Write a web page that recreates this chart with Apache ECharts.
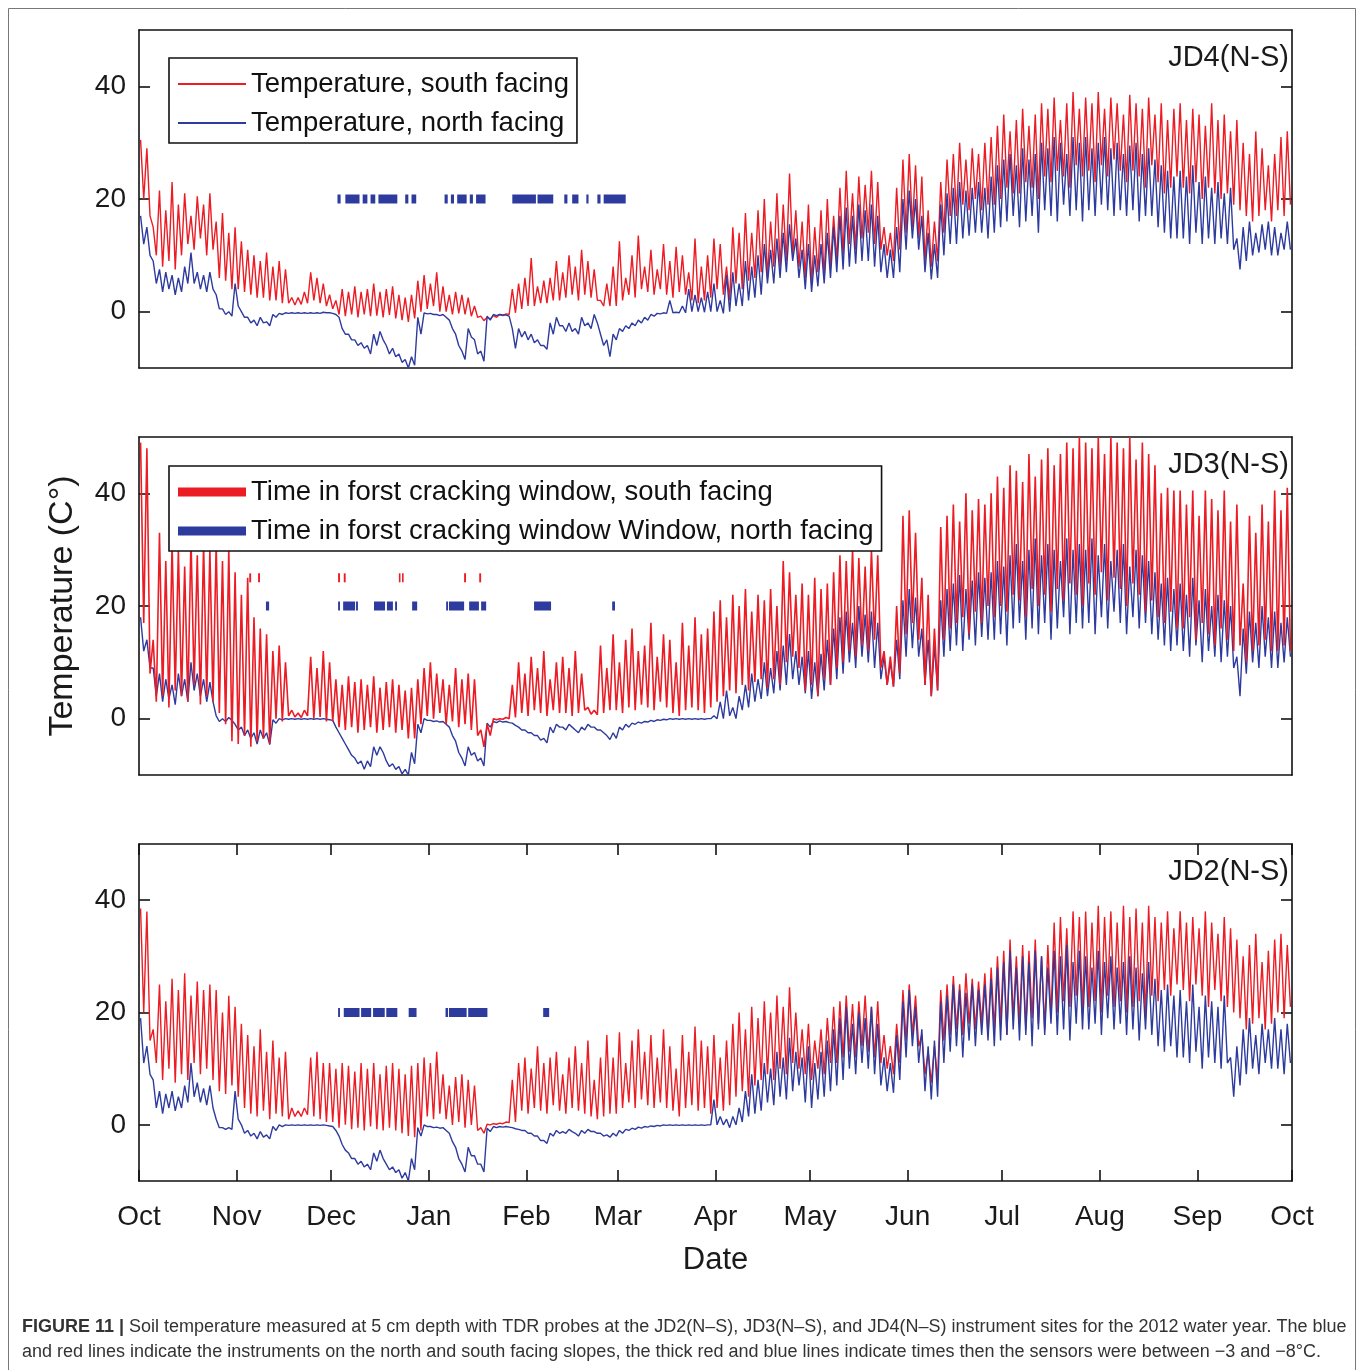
<!DOCTYPE html>
<html>
<head>
<meta charset="utf-8">
<script src="https://cdn.jsdelivr.net/npm/echarts@6/dist/echarts.min.js"></script>
<style>html,body{margin:0;padding:0;background:#fff;}#c{width:1360px;height:1370px;}</style>
</head>
<body>
<div id="c"></div>
<script>
// ---------- axis / tick data ----------
const monthStartDays = [0, 31, 61, 92, 123, 152, 183, 213, 244, 274, 305, 336, 366];
const monthLabels = ['Oct','Nov','Dec','Jan','Feb','Mar','Apr','May','Jun','Jul','Aug','Sep','Oct'];
const yTickValues = [0, 20, 40];
const stepDays = 2; // each hi/lo pair covers two days (hi first, then lo)

// ---------- JD4(N-S) ----------
const jd4SouthHi = [
30.5,29,15,21.5,18,23,19,21,17,20.5,19,21,16,17.5,14,
15,12.5,11,10,9,10.5,8,9,7.5,2.5,2.5,3.5,7,6,5,
3,2,4,3.5,4.5,3.5,4,5,3.5,4,4.5,3,2.5,3,5.5,
6.5,5,7,4.5,3,3.5,3,2.5,1,-0.8,-1,-0.7,-0.5,-0.4,4,
5,6,9.5,4.5,5.5,6,9,7,10,8,11,9,7.5,2,5,
8,12.5,6,10,13.5,8,11,7.5,12,9,11.5,10,7,13,8,
10,13,12,8,15,14,17.5,14,18,20,16,21,19,24.5,18,
16,19,15,18,20,17,22,25,21,24,22.5,25,23,15,14,
22,27,28,26,24,18,16,23,27,28,30,27,29,28,30,
31,33,35,32,34,36,33,35,37,36,38,34,37,39,36,
38,37,39,36,38,37,35,38.5,37,36,38,35,37,34,36,
37,34,36,35,33,37,34,35,32,34,30,28,32,29,26,
28,31,32];
const jd4SouthLo = [
20,17,10,8,9,7.5,10,12,11,13,10,11,6,5.5,4,
4,3.5,3,2.5,2.5,2,2,1.5,1.5,1.2,1.3,1.5,2,1.5,1,
0.5,-0.5,-0.8,-0.5,-1,-0.5,-0.8,-0.7,-1,-0.6,-1.2,-1.5,-1.8,-1.2,0,
0.5,1,0,0,-0.5,-0.3,-0.5,-0.8,-1,-1.6,-1.3,-1,-0.7,-0.5,-0.2,
0.5,1,1,1.5,1.5,2,2,2.5,3,2,3,2.5,2,1,1,
1,2,3,2.5,4,3.5,3,4,3,2.5,3.5,3,2,1.5,2,
2.5,4,3,2,5,4,5.5,6,7,6,8,8,9,10,8,
6,5,7,6,8,9,10,12,11,13,14,12,11,10,9,
11,14,15,13,9,8,9,14,17,17,19,18,20,18,19,
19,20,22,21,21,23,22,20,24,23,25,24,22,26,24,
25,23,26,24,27,25,23,25,24,22,26,23,21,22,24,
22,21,23,20,22,21,20,21,19,18,17,16,17,18,16,
18,17,19];
const jd4NorthHi = [
17,15,9,7.5,7,6.5,6,8,10.5,7,6.5,7,3,0.5,0,
5,0,-1,-1.5,-1,-1.8,-0.5,-0.3,-0.2,-0.2,-0.2,-0.2,-0.2,-0.2,-0.1,
-0.2,-0.5,-3,-4,-5,-5.5,-6,-4,-3.5,-6,-6.5,-7.5,-8.5,-8,-1,
-0.2,-0.3,-0.5,-0.5,-1.5,-4,-7,-3,-5,-7,-0.8,-0.5,-0.5,-0.6,-3,
-3,-3.5,-4,-5,-6,-2,-1,-2.5,-2,-3,-1,-2,-0.5,-4,-5,
-4,-3,-2.5,-2,-1.5,-1,-0.5,-0.3,-0.2,2,-0.1,1,4,3,2.5,
3.5,5,2,6.5,7,5,9,8,10,12,11,13,14,15.5,13,
11,12,10,12,14,15,17,18.5,17,19,18,19,17,12,11,
15,20,21.5,20,17,14,12,19,21,22,23,21.5,22,23,22,
24,26,27,28,26,29,27,28,30,29,31,30,28,31,30,
31,29,30,31,29,30,28,29.5,30,28,29,27,26,25,24,
25,24,26,23,24,22,23,21,22,13,15,16,14,15.5,16,
15,14,16];
const jd4NorthLo = [
12,10,5,3.5,4,3,3.5,5,5,4,3.5,4,0.5,-0.5,-0.8,
1,-1,-2,-2.5,-2,-2.5,-1,-0.5,-0.3,-0.3,-0.3,-0.3,-0.3,-0.3,-0.2,
-0.3,-1,-4,-5,-6,-6.5,-7.5,-6,-5,-7.5,-8,-9,-10,-9.5,-4,
-0.4,-0.5,-0.7,-1,-3,-6,-8.5,-4.5,-7.5,-8.8,-1.5,-0.7,-0.6,-0.8,-6.5,
-4.5,-5,-5.5,-6,-6.7,-4,-2.5,-3.5,-3.5,-4,-2.5,-3,-2,-6,-8,
-5,-3.5,-3,-2.5,-2,-1.5,-0.8,-0.4,-0.3,-0.2,-0.2,-0.2,0,0,-0.1,
0,0,-0.3,0,1,1,2,2.5,3,5,5,6,7,9,6,
4,3.5,4.5,5,6,7,7.5,8,8.5,9,9,8,7,6,6,
7,11,13,11,7,5.7,6,10,12,12,13,13.5,14,14,13,
14,15,16,17,15,16,17,14,18,17,16,19,17,18,16,
18,17,19,18,17,18,17,18,16,17,17,15,14,13,13,
13,12,14,12,13,12,13,12,11,7.5,9,10,10.5,11,10,
10,11,11];
const jd4FrostNorth = [[63,64],[65.5,70],[71,72.5],[73.5,75],[76,82],[84.5,85.5],[86.5,88],[97,98],[99,100],[101,104],[105,106],[107,110],[118.5,126],[126.5,131.5],[135,136],[137.5,139.5],[142,142.7],[145.5,146.5],[147.5,154.5]];

// ---------- JD3(N-S) ----------
const jd3SouthHi = [
49,48,14,33,28,31,30,27,32,29,31,30,31,28,30,
26,22,25,18,16,15,12,13,10,1.5,1,1.5,11,9,12,
10,7,6,7.5,6.5,7,6,7.5,5.5,6.5,7,6,5,5.5,7,
9,10,8,7,6,9,7,8,7,-2,-1,0,0,0.2,6,
10,8,11,9,12,7,10,11,9,12,8,2,1.5,13,9,
15,10,14,16,12,13,17,11,15,14,10,17,13,18,15,
16,19,21,18,22,20,23,19,22,21,23,20,28,26,22,
24,22,25,23,24,26,29,28,30,28.5,27,30,29,12,11,
20,36,37,33,25,22,16,34,36,38,35,40,37,39,38,
40,43,41,45,44,42,47,43,46,48,45,47,49,48,50,
49,48,50,47,50,49,48,50,46,49,47,45,40,41,40.5,
40.5,38,40.5,36,40.5,39,37,40.5,35,38,24,36,33,38,35,
40.5,37,41];
const jd3SouthLo = [
17,8,3,4,2,5,4,3,6,2.5,4,3,1,-1,-4,
-4.5,-3,-5,-4,-3.5,-4.5,0,-0.5,0.5,0.3,0.2,0.5,0,0.3,-0.5,
-0.5,-1.5,-2,-1.5,-2.5,-2,-1.5,-2.5,-2,-1.5,-2.5,-2,-3.5,-3.5,-1,
0.5,0,1,-1,-0.5,-1.5,-1,-2,-3,-5,-3,-0.2,-0.1,0,0.2,
1,0.5,1.5,1,0.5,1.5,1,1,0.5,1,1.5,0.8,0.7,1,1.5,
1.5,1,2,1.5,2.5,2,1.5,3,2,1,0.5,1.5,2,1.5,1,
2,3,4,5,4.5,6,5,6.5,7,5.5,7,6,10,11,9,
5,6,4,7,6,9,10,12,11,13,12,14,9,6,5.7,
8,15,17,14,6,4,5,14,16,17,18,15,19,17,20,
18,20,19,22,21,18,23,20,22,19,23,21,24,22,20,
24,22,26,21,25,23,20,24,22,19,21,18,17,19,16,
16,18,14,17,15,13,16,14,12,13,10,12,13,14,12,
12,13,12];
const jd3NorthHi = [
18,14,9,8,7,6,8,7,10,8,7,6.5,0.5,0,0.2,
-1,-1.5,-2,-2.5,-2,-2.5,-0.2,0,0,0,0,0,0,0,0,
-0.2,-1.5,-3.5,-5.5,-7,-7.5,-7.5,-5,-5,-7.5,-8,-8.5,-9,-6,-1,
0,-0.3,-0.4,-0.5,-1.5,-4,-7,-5,-6,-7,-0.8,-0.5,-0.4,-0.5,-0.8,
-1.5,-2,-2.5,-3,-3.5,-1.5,-1,-1.5,-1,-2,-1.5,-1,-1.5,-2,-3,
-2.5,-1.5,-1,-0.8,-0.6,-0.5,-0.3,-0.2,-0.1,0,0,0,0,0,0,
0,0.5,3,5,2,4,6,8,7,10,9,12,13,15,12,
11,12,10,11.5,14,16,18,19,17,20,18.5,19,17,11,10,
14,21,23,21.5,16,14,13,21,23,24,25.5,23,24.5,26,25,
26,28,27,29,31,28,30,32,29,31,30,28,32,30,31,
30,32,29,31,28,30,31,27,30,29,28,26,24,25,23,
24,22,25,21,23,20,22,21,20,11,16,19,17,20,18,
19,17,18];
const jd3NorthLo = [
12,9,4,3,3.5,2.5,4,3,5,4,3,3,-0.5,-0.5,-0.3,
-2,-3,-3.5,-4.5,-3.5,-4.6,-0.8,-0.2,-0.1,-0.1,-0.1,-0.1,-0.1,-0.1,-0.1,
-0.3,-2.5,-4.5,-6.5,-8,-9,-8.5,-6.5,-6,-8.5,-9,-9.8,-10,-8,-2.5,
-0.3,-0.5,-0.6,-1,-3,-6,-8.4,-6.5,-7.5,-8.4,-1.5,-0.7,-0.6,-0.7,-1.2,
-2,-2.5,-3,-3.8,-4.3,-2.5,-1.5,-2,-1.5,-2.5,-2,-1.5,-2,-2.5,-3.7,
-3.5,-2,-1.5,-1,-0.8,-0.6,-0.5,-0.3,-0.2,-0.1,-0.1,-0.1,-0.1,-0.1,-0.1,
0,0,0,0.5,0,1.5,2,3,3.5,4,4.5,5,6,7,6,
4.5,3.5,4,5,6,7,8,10,9,11,10,9,7,6,5.7,
7,11,12.5,11,6,4,5,11,12,13,12,14,13,14.5,14,
14,15,13,16,17,14,16,15,17,14,16,18,15,17,16,
17,15,18,16,19,17,15,18,16,17,15,14,13,12,13,
12,11,13,10,12,11,10,11,9,4,8,10,9,11,9,
9,10,11];
const jd3FrostSouth = [[35,35.6],[37.8,38.4],[63.2,63.8],[65,65.6],[82.5,83],[83.5,84],[103.2,103.8],[108,108.6]];
const jd3FrostNorth = [[40.3,41.3],[63.2,63.8],[64.8,68.6],[68.9,69.5],[74.6,78.1],[78.7,80.6],[81.3,81.9],[86.7,88.3],[97.5,98.1],[98.4,103.2],[104.8,107.9],[108.6,110.2],[125.4,130.8],[150.2,151.1]];

// ---------- JD2(N-S) ----------
const jd2SouthHi = [
38.5,38,17,25,22,26,24,27,23,25.5,24,25,24,20,23,
21,18,16,14,17,13,15,12,13,3,2.5,3,12,13,11,
11,10,11,10.5,9.5,11,10,11,9,10.5,11,10,9,10.5,11,
12,11,13,9,7,8.5,9,8,7,-0.5,0.1,0.2,0.3,0.5,8,
11,12,10,14,11,12,13,9,12,14,11,15,8,12,16,
12,16.5,11,15,17,13,16,12,17,14,10,16,13,17.5,15,
14,16,12,15,18,20,17,21,19,22,20,23,21,24.5,20,
17,18,15,17,19,21,22,23,21.5,22,23,21,22,16,14,
18,24,25,23,16,13,14,24,25,26.5,25,27,26,25.5,27,
28,30,31,33,30,32,31,33,30,32,36,37,35,38,37,
38,36,39,37,38,36,39,37,38.5,36,39,37,36,38,35,
38,36,37,35,38,36,34,37,35,33,30,32,34,29,31,
33,34,32];
const jd2SouthLo = [
20,15,11,8,10,7.5,9,8,11,9,10,8,6,5.5,7,
5,3,2,1.5,2.5,1,2,1.5,1,1.5,1.5,1.8,1.5,1,0.5,
0.5,-0.5,0,-0.8,-0.5,-1,-0.3,-0.8,-1,-0.5,-1,-1.5,-2,-2.2,-1,
1.5,1,2,1,0,0.5,-0.5,0,-1,-1.5,0,0.1,0.2,0.4,0.5,
2.5,2,3,2.5,2,3.5,2.5,2,3,2.5,2,1.5,1,1.5,2,
2,3,4,3,4.5,3.5,3,4,3,2.5,1.5,3,3.5,2.5,3,
2,3,2.5,3.5,5,6,5,7,8,9,8,10,9,11,10,
9,8,10,9,11,11,12,13,12,14,13,12,11,10,9,
11,15,16,14,9,7.5,8,15,16,17,16,18,17,18,16,
17,18,16,19,18,17,19,18,17,19,20,22,21,23,20,
21,22,20,23,21,22,20,21,22,19,23,22,24,23,25,
24,22,25,23,21,24,22,21,20,19,17,18,19,17,18,
20,19,21];
const jd2NorthHi = [
19,14,8,6,5.5,6,5,7,11,7.5,6.5,7,1,-0.5,-0.5,
6,0,-1,-1.5,-1.2,-1.8,-0.3,0,0,0,0,0,0,0,0,
-0.2,-1,-3.5,-5,-6,-6.5,-7,-5,-4.5,-7,-7.5,-8,-8.5,-6,-0.5,
0,-0.3,-0.4,-0.5,-1.5,-4,-7,-4,-5.5,-7,-0.6,-0.3,-0.3,-0.3,-0.5,
-0.8,-1,-1.5,-2,-2.8,-1.5,-1,-1.2,-0.8,-1.5,-1,-0.8,-1.2,-1.5,-1.8,
-1.5,-1,-0.8,-0.6,-0.4,-0.3,-0.2,-0.1,0,0,0,0,0,0,0,
0,4.5,1.5,1,1.5,3,6,9,8,11,10,13,12,15.5,13,
12,14,11,13,15,17,19,21,18,20,19,21,18,12,11,
16,22,24,21,17,14,15,22,23,25,24,23.5,25,24,25,
26,28,29,31,28,30,29,31,30,28,31,30,32,29,31,
30,28,31,29,30,28,29,30,28,27,29,26,24,25,23,
24,22,25,21,23,22,21,23,12,14,17,19,16,18,17,
19,17,18];
const jd2NorthLo = [
11,9,3,2,3,2.5,3,4,5,4,3.5,3,-0.5,-0.8,-0.8,
1,-1.5,-2,-2.5,-2.2,-2.5,-1,-0.3,-0.1,-0.1,-0.1,-0.1,-0.1,-0.1,-0.1,
-0.3,-2,-4.5,-6,-7,-7.5,-8,-6.5,-6,-8,-8.5,-9.5,-10,-8,-2,
-0.3,-0.5,-0.6,-1,-3,-6,-8.4,-5.5,-7,-8.4,-1.2,-0.5,-0.4,-0.4,-0.7,
-1,-1.5,-2,-2.8,-3.3,-2,-1.5,-1.5,-1.2,-2,-1.5,-1.2,-1.5,-2,-2.2,
-2,-1.5,-1,-0.8,-0.6,-0.4,-0.3,-0.2,-0.1,-0.1,-0.1,-0.1,-0.1,-0.1,-0.1,
0,0,0,-0.5,0,0.5,1.5,2,2.5,4,3.5,5,4.5,6,7,
4,3,4.5,5,6,7,8,10,9,11,10,9,7,6,5.7,
8,12,14,11,6,4.5,5,11,13,14,12,15,14,16,15,
14,15,16,17,15,16,14,17,16,18,16,17,15,18,17,
17,18,16,19,17,18,16,17,15,17,16,14,13,14,12,
12,11,13,10,12,11,10,11,5,7,9,10,9,11,10,
10,9,11];
const jd2FrostNorth = [[63.2,63.8],[65,70],[70.5,73.7],[74.3,78],[78.5,82],[85.6,88.1],[97.3,98.1],[98.4,104],[104.5,110.6],[128.3,130.2]];

const frostLevelNorth = 20;
const frostLevelSouth = 25;

// ---------- names ----------
const siteNames = ['JD4(N-S)', 'JD3(N-S)', 'JD2(N-S)'];
const nameSouth = 'Temperature, south facing';
const nameNorth = 'Temperature, north facing';
const nameFrostSouth = 'Time in forst cracking window, south facing';
const nameFrostNorth = 'Time in forst cracking window Window, north facing';

// ---------- build ----------
const RED = '#ec1c24', BLUE = '#2e3b9e';
const FONT = "'Liberation Sans', Arial, Helvetica, sans-serif";

function zigzag(hi, lo) {
  const pts = [];
  const n = Math.min(hi.length, lo.length);
  for (let k = 0; k < n; k++) {
    pts.push([stepDays * k + 0.5, hi[k]]);
    pts.push([stepDays * k + 1.5, lo[k]]);
  }
  return pts;
}

const panels = [
  { south: [jd4SouthHi, jd4SouthLo], north: [jd4NorthHi, jd4NorthLo], frostS: [], frostN: jd4FrostNorth, redTop: false },
  { south: [jd3SouthHi, jd3SouthLo], north: [jd3NorthHi, jd3NorthLo], frostS: jd3FrostSouth, frostN: jd3FrostNorth, redTop: true },
  { south: [jd2SouthHi, jd2SouthLo], north: [jd2NorthHi, jd2NorthLo], frostS: [], frostN: jd2FrostNorth, redTop: false }
];

const gridTops = [30, 437, 844];
const gridHeights = [338, 338, 337];
const grids = [], xAxes = [], yAxes = [], series = [];

const axisLineStyle = { color: '#111', width: 1.6 };

panels.forEach((p, i) => {
  grids.push({ left: 139, top: gridTops[i], width: 1153, height: gridHeights[i] });
  const showX = (i === 2);
  ['bottom', 'top'].forEach(pos => {
    xAxes.push({
      gridIndex: i, type: 'value', position: pos, min: 0, max: 366,
      axisLine: { show: true, onZero: false, lineStyle: axisLineStyle },
      axisTick: { show: showX, inside: true, length: 11, customValues: monthStartDays, lineStyle: axisLineStyle },
      axisLabel: {
        show: showX && pos === 'bottom', customValues: monthStartDays, margin: 22,
        fontSize: 28, fontFamily: FONT, color: '#1a1a1a',
        formatter: v => monthLabels[monthStartDays.indexOf(v)] || ''
      },
      splitLine: { show: false },
      name: (showX && pos === 'bottom') ? 'Date' : '',
      nameLocation: 'middle', nameGap: 64,
      nameTextStyle: { fontSize: 31, fontFamily: FONT, color: '#1a1a1a' }
    });
  });
  ['left', 'right'].forEach(pos => {
    yAxes.push({
      gridIndex: i, type: 'value', position: pos, min: -10, max: 50,
      axisLine: { show: true, onZero: false, lineStyle: axisLineStyle },
      axisTick: { show: true, inside: true, length: 11, customValues: yTickValues, lineStyle: axisLineStyle },
      axisLabel: { show: pos === 'left', customValues: yTickValues, margin: 13, fontSize: 28, fontFamily: FONT, color: '#1a1a1a' },
      splitLine: { show: false }
    });
  });
  const xi = 2 * i, yi = 2 * i;
  series.push({
    name: nameSouth, type: 'line', xAxisIndex: xi, yAxisIndex: yi,
    data: zigzag(p.south[0], p.south[1]), showSymbol: false, symbol: 'none',
    lineStyle: { color: RED, width: p.redTop ? 1.6 : 1.4 }, itemStyle: { color: RED },
    z: p.redTop ? 4 : 2, silent: true, animation: false
  });
  series.push({
    name: nameNorth, type: 'line', xAxisIndex: xi, yAxisIndex: yi,
    data: zigzag(p.north[0], p.north[1]), showSymbol: false, symbol: 'none',
    lineStyle: { color: BLUE, width: 1.4 }, itemStyle: { color: BLUE },
    z: 3, silent: true, animation: false
  });
  const frostSeries = (name, segs, level, color) => ({
    name, type: 'custom', xAxisIndex: xi, yAxisIndex: yi, z: 5, silent: true, animation: false,
    itemStyle: { color },
    encode: { x: [0, 1], y: 2 },
    data: segs.map(s => [s[0], s[1], level]),
    renderItem: (params, api) => {
      const a = api.coord([api.value(0), api.value(2)]);
      const b = api.coord([api.value(1), api.value(2)]);
      return { type: 'rect', shape: { x: a[0], y: a[1] - 4.5, width: Math.max(b[0] - a[0], 1.5), height: 9 }, style: { fill: color } };
    }
  });
  series.push(frostSeries(nameFrostSouth, p.frostS, frostLevelSouth, RED));
  series.push(frostSeries(nameFrostNorth, p.frostN, frostLevelNorth, BLUE));
});

const legendCommon = {
  orient: 'vertical', left: 169, padding: [12, 8, 6, 9], itemGap: 11, itemWidth: 68,
  borderColor: '#111', borderWidth: 1.6, backgroundColor: '#fff', borderRadius: 0, icon: 'rect',
  selectedMode: false, textStyle: { fontSize: 27.5, fontFamily: FONT, color: '#111' }, z: 10
};

const graphics = [
  { type: 'polyline', shape: { points: [[8.5, 1370], [8.5, 8.5], [1355.5, 8.5], [1355.5, 1370]] }, style: { stroke: '#777', lineWidth: 1, fill: null }, silent: true },
  { type: 'text', x: 63, y: 606, rotation: Math.PI / 2, style: { text: 'Temperature (C°)', fontSize: 34, fontFamily: FONT, fill: '#1a1a1a', align: 'center', verticalAlign: 'middle' } },
  { type: 'text', x: 22, y: 1327, style: {
      text: '{b|FIGURE 11 |} Soil temperature measured at 5 cm depth with TDR probes at the JD2(N–S), JD3(N–S), and JD4(N–S) instrument sites for the 2012 water year. The blue',
      fontSize: 18, fontFamily: FONT, fill: '#333', verticalAlign: 'middle',
      rich: { b: { fontWeight: 'bold', fontSize: 18, fontFamily: FONT, fill: '#333' } } } },
  { type: 'text', x: 22, y: 1352, style: {
      text: 'and red lines indicate the instruments on the north and south facing slopes, the thick red and blue lines indicate times then the sensors were between −3 and −8°C.',
      fontSize: 18, fontFamily: FONT, fill: '#333', verticalAlign: 'middle' } }
];
siteNames.forEach((s, i) => {
  graphics.push({ type: 'text', x: 1289, y: gridTops[i] + 28, style: { text: s, fontSize: 29, fontFamily: FONT, fill: '#1a1a1a', align: 'right', verticalAlign: 'middle' }, z: 20 });
});

const chart = echarts.init(document.getElementById('c'), null, { renderer: 'canvas' });
chart.setOption({
  backgroundColor: '#fff',
  animation: false,
  grid: grids,
  xAxis: xAxes,
  yAxis: yAxes,
  legend: [
    Object.assign({}, legendCommon, { top: 58, data: [nameSouth, nameNorth], itemHeight: 2 }),
    Object.assign({}, legendCommon, { top: 466, data: [nameFrostSouth, nameFrostNorth], itemHeight: 9 })
  ],
  series: series,
  graphic: graphics
});
</script>
</body>
</html>
